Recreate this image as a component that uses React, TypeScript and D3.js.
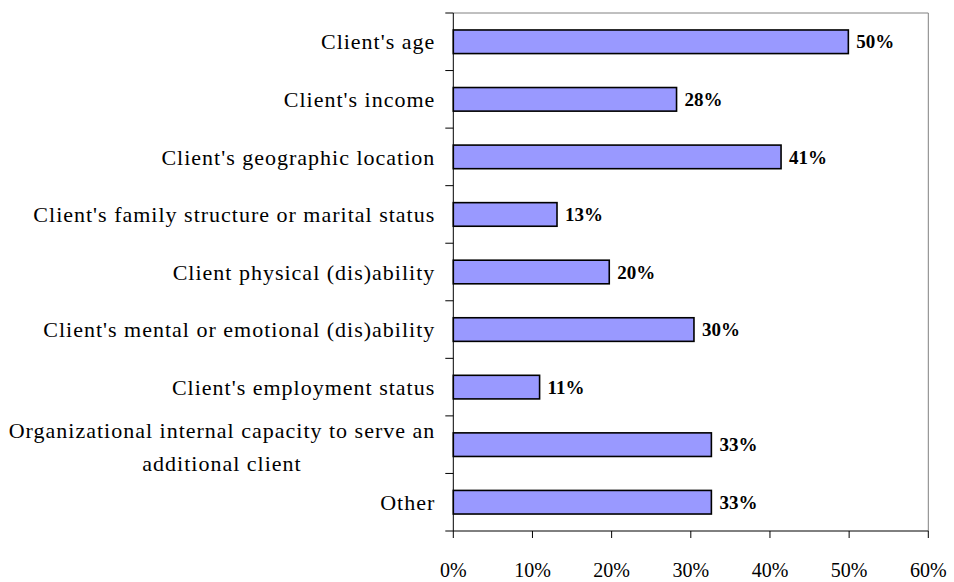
import React, { useEffect, useRef } from "react";
import * as d3 from "d3";

const categories = [
  "Client's age",
  "Client's income",
  "Client's geographic location",
  "Client's family structure or marital status",
  "Client physical (dis)ability",
  "Client's mental or emotional (dis)ability",
  "Client's employment status",
  "Organizational internal capacity to serve an\nadditional client",
  "Other",
];
const values = [49.9, 28.2, 41.4, 13.1, 19.7, 30.4, 10.9, 32.6, 32.6];
const xTicks = [0, 10, 20, 30, 40, 50, 60];

const W = 954;
const H = 582;
const FONT = "'Liberation Serif', 'Times New Roman', serif";

export default function App() {
  const ref = useRef<SVGSVGElement | null>(null);

  useEffect(() => {
    const svg = d3.select(ref.current);
    svg.selectAll("*").remove();

    const left = 453.3, right = 928.3, top = 13, bottom = 531;
    const x = d3.scaleLinear().domain([0, 60]).range([left, right]);
    const y = d3
      .scaleBand<string>()
      .domain(categories)
      .range([top, bottom])
      .paddingInner(0.59)
      .paddingOuter(0.295);
    const step = y.step();

    // plot border (top/right grey)
    svg.append("line").attr("x1", left).attr("x2", right).attr("y1", top).attr("y2", top)
      .attr("stroke", "#808080").attr("stroke-width", 1);
    svg.append("line").attr("x1", right).attr("x2", right).attr("y1", top).attr("y2", bottom)
      .attr("stroke", "#808080").attr("stroke-width", 1);

    // bars
    svg.append("g").selectAll("rect").data(values).join("rect")
      .attr("x", x(0))
      .attr("y", (_d, i) => y(categories[i])!)
      .attr("width", (d) => x(d) - x(0))
      .attr("height", y.bandwidth())
      .attr("fill", "#9999FF")
      .attr("stroke", "#000")
      .attr("stroke-width", 1.6);

    // value labels
    svg.append("g").selectAll("text").data(values).join("text")
      .attr("x", (d) => x(d) + 8)
      .attr("y", (_d, i) => y(categories[i])! + y.bandwidth() / 2)
      .attr("dy", "0.35em")
      .attr("font-family", FONT)
      .attr("font-size", 19)
      .attr("font-weight", "bold")
      .attr("fill", "#000")
      .text((d) => `${Math.round(d)}%`);

    // y axis line & ticks at category boundaries
    svg.append("line").attr("x1", left).attr("x2", left).attr("y1", top).attr("y2", bottom)
      .attr("stroke", "#000").attr("stroke-width", 1);
    const boundaries = d3.range(categories.length + 1).map((i) => top + i * step);
    svg.append("g").selectAll("line").data(boundaries).join("line")
      .attr("x1", left - 8).attr("x2", left).attr("y1", (d) => d).attr("y2", (d) => d)
      .attr("stroke", "#000").attr("stroke-width", 1);

    // category labels
    const labelX = left - 19 + 1;
    const labelG = svg.append("g")
      .attr("font-family", FONT).attr("font-size", 22).attr("letter-spacing", 1)
      .attr("fill", "#000");
    categories.forEach((c) => {
      const lines = c.split("\n");
      const cy = y(c)! + y.bandwidth() / 2;
      const lh = 33;
      if (lines.length === 1) {
        labelG.append("text").attr("x", labelX).attr("y", cy).attr("dy", "0.35em")
          .attr("text-anchor", "end").text(lines[0]);
      } else {
        const t1 = labelG.append("text").attr("x", labelX).attr("y", cy - lh / 2 + 2)
          .attr("dy", "0.35em").attr("text-anchor", "end").text(lines[0]);
        const w1 = (t1.node() as SVGTextElement).getComputedTextLength();
        labelG.append("text").attr("x", labelX - w1 / 2).attr("y", cy + lh / 2 + 2)
          .attr("dy", "0.35em").attr("text-anchor", "middle").text(lines[1]);
      }
    });

    // x axis
    svg.append("line").attr("x1", left).attr("x2", right).attr("y1", bottom).attr("y2", bottom)
      .attr("stroke", "#000").attr("stroke-width", 1);
    svg.append("g").selectAll("line").data(xTicks).join("line")
      .attr("x1", (d) => x(d)).attr("x2", (d) => x(d))
      .attr("y1", bottom).attr("y2", bottom + 7)
      .attr("stroke", "#000").attr("stroke-width", 1);
    svg.append("g").selectAll("text").data(xTicks).join("text")
      .attr("x", (d) => x(d)).attr("y", 570).attr("dy", "0.35em")
      .attr("text-anchor", "middle")
      .attr("font-family", FONT).attr("font-size", 20).attr("fill", "#000")
      .text((d) => `${d}%`);
  }, []);

  return (
    <svg
      ref={ref}
      width={W}
      height={H}
      style={{ position: "absolute", left: 0, top: 0, background: "#fff" }}
    />
  );
}
